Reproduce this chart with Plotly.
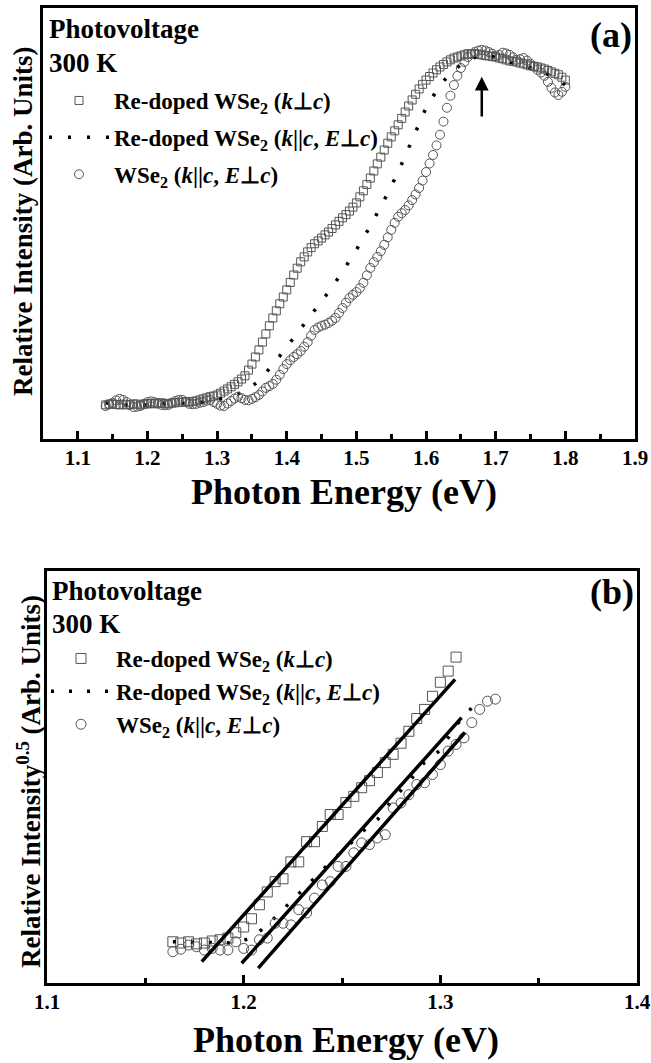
import plotly.graph_objects as go

W, H = 651, 1063
FONT = "Liberation Serif"
GRAY = "#555555"

# ---------------- panel (a) data ----------------
E_START_A = 1.14
E_STEP_A = 0.005
redoped_perp_a = [
    0.0, 0.2, 0.3, 0.1, 0.0, 0.2, 0.0, 0.1, 0.3, 0.2, 0.0, 0.2, 0.3, 0.4, 0.3, 0.5,
    0.6, 0.4, 0.3, 0.5, 0.6, 0.7, 0.8, 0.9, 0.8, 1.0, 1.1, 1.4, 1.7, 2.0, 2.3, 2.5,
    2.8, 3.3, 3.9, 4.5, 5.1, 5.8, 6.5, 7.3, 8.2, 9.8, 11.5, 13.5, 15.5, 17.7, 20.0, 22.3,
    24.5, 26.5, 28.5, 30.4, 32.4, 34.5, 36.6, 38.5, 40.3, 41.7, 43.1, 44.3, 45.4, 46.2, 47.0, 47.9,
    48.7, 49.7, 50.7, 51.7, 52.7, 53.6, 54.6, 55.7, 56.9, 58.6, 60.3, 62.1, 63.9, 65.9, 67.9, 69.8,
    71.8, 73.7, 75.5, 77.2, 78.9, 80.7, 82.5, 84.2, 85.9, 87.5, 89.0, 90.3, 91.5, 92.5, 93.5, 94.4,
    95.2, 95.9, 96.6, 97.2, 97.7, 98.0, 98.3, 98.6, 98.9, 98.9, 98.9, 98.8, 98.6, 98.4, 98.3, 98.1,
    98.0, 97.7, 97.5, 97.2, 96.9, 96.8, 96.6, 96.3, 96.1, 95.8, 95.5, 95.4, 95.2, 94.9, 94.6, 94.2,
    93.8, 93.4, 93.0, 92.3, 91.5,
]
wse2_a = [
    -0.3, 0.2, 0.6, 1.3, 1.7, 1.4, 0.8, 0.0, -0.6, -0.5, -0.3, 0.3, 0.8, 1.0, 0.8, 0.4,
    0.0, -0.1, 0.0, 0.6, 1.1, 1.4, 1.4, 0.9, 0.3, 0.2, 0.3, 0.6, 0.8, 1.2, 1.4, 0.8,
    0.3, -0.2, -0.3, 0.4, 1.1, 1.8, 2.3, 1.9, 1.4, 1.3, 1.7, 2.2, 2.8, 3.8, 4.8, 5.3,
    5.9, 7.1, 8.5, 10.1, 11.5, 12.6, 13.5, 14.3, 15.2, 16.4, 17.7, 19.5, 21.1, 21.8, 22.3, 22.6,
    23.1, 23.7, 24.5, 25.9, 27.3, 28.8, 30.1, 31.0, 31.8, 32.9, 34.4, 36.5, 38.6, 40.2, 41.7, 43.3,
    45.1, 47.2, 49.3, 51.3, 53.0, 54.0, 54.9, 56.2, 57.7, 59.3, 61.1, 63.2, 65.6, 68.0, 70.4, 73.1,
    76.1, 79.8, 83.7, 87.1, 90.1, 92.7, 94.9, 96.6, 98.0, 98.8, 99.4, 99.8, 100.0, 99.8, 99.4, 98.9,
    98.3, 98.6, 99.2, 99.0, 98.6, 97.9, 97.2, 97.4, 97.7, 97.0, 96.1, 95.3, 94.4, 93.6, 92.7, 91.0,
    89.3, 88.0, 87.3, 88.2, 89.6,
]
redoped_par_a_x = [1.14, 1.16, 1.18, 1.20, 1.22, 1.24, 1.26, 1.28, 1.30, 1.32, 1.34, 1.36,
                   1.38, 1.40, 1.42, 1.44, 1.46, 1.48, 1.50, 1.52, 1.54, 1.56, 1.58, 1.60,
                   1.62, 1.64, 1.66, 1.68, 1.70, 1.72, 1.74, 1.76, 1.78, 1.80]
redoped_par_a = [0.6, 0.0, 0.0, 0.0, 0.3, 0.3, 0.6, 0.8, 1.4, 2.5, 3.7, 6.8,
                 11.3, 16.3, 21.4, 26.5, 31.8, 37.5, 43.7, 50.4, 57.7, 65.6, 74.7, 83.7,
                 90.1, 94.4, 97.2, 98.6, 98.0, 96.6, 95.5, 94.4, 92.7, 90.1]
arrow_energy = 1.68
arrow_tip = 92.4
arrow_tail = 80.8
ticks_a = [1.1, 1.2, 1.3, 1.4, 1.5, 1.6, 1.7, 1.8, 1.9]

# ---------------- panel (b) data ----------------
E_START_B = 1.164
E_STEP_B = 0.004
redoped_perp_b = [
    10.0, 9.7, 10.0, 9.5, 9.7, 10.2, 10.5, 10.9, 12.2, 13.6, 15.6, 19.0, 22.1,
    24.6, 25.3, 29.4, 29.4, 34.3, 34.3, 38.0, 40.9, 40.9, 43.8, 45.3, 47.4, 49.1,
    51.1, 53.5, 55.5, 58.2, 61.1, 64.2, 66.4, 69.6, 73.0, 75.7, 79.1,
]
wse2_b = [
    7.6, 8.2, 9.2, 8.8, 8.0, 8.4, 8.0, 8.0, 10.0, 8.4, 8.0, 10.5, 10.9, 14.5,
    14.5, 14.1, 17.8, 17.0, 20.6, 23.8, 24.6, 28.3, 28.3, 31.6, 34.0, 33.6, 35.2,
    36.0, 42.5, 43.7, 45.7, 48.2, 48.6, 50.6, 53.0, 56.3, 57.9, 59.5, 63.2, 66.4,
    68.4, 68.9,
]
redoped_par_b_x = [1.164, 1.172, 1.180, 1.188, 1.196, 1.204, 1.212, 1.220, 1.228, 1.236,
                   1.244, 1.252, 1.260, 1.268, 1.276, 1.284, 1.292, 1.300, 1.308, 1.316]
redoped_par_b = [10.0, 10.0, 9.9, 9.8, 9.7, 11.0, 14.0, 17.8, 21.8, 25.5,
                 29.3, 32.7, 36.6, 39.6, 44.7, 48.8, 53.6, 56.5, 62.5, 66.8]
fit_perp_x = [1.1787, 1.3075]
fit_perp_y = [5.2, 73.7]
fit_par_x = [1.199, 1.3108]
fit_par_y = [4.8, 64.4]
fit_wse2_x = [1.2074, 1.3125]
fit_wse2_y = [3.6, 60.8]
ticks_b = [1.1, 1.2, 1.3, 1.4]

lab_perp = "Re-doped WSe<sub>2</sub> (<i>k</i>⊥<i>c</i>)"
lab_par = "Re-doped WSe<sub>2</sub> (<i>k</i>||<i>c</i>, <i>E</i>⊥<i>c</i>)"
lab_wse2 = "WSe<sub>2</sub> (<i>k</i>||<i>c</i>, <i>E</i>⊥<i>c</i>)"

x_a_sq = [round(E_START_A + E_STEP_A * i, 4) for i in range(len(redoped_perp_a))]
x_a_ci = [round(E_START_A + E_STEP_A * i, 4) for i in range(len(wse2_a))]
x_b_sq = [round(E_START_B + E_STEP_B * i, 4) for i in range(len(redoped_perp_b))]
x_b_ci = [round(E_START_B + E_STEP_B * i, 4) for i in range(len(wse2_b))]

fig = go.Figure()

# panel (a)
fig.add_trace(go.Scatter(x=x_a_sq, y=redoped_perp_a, mode="markers", name=lab_perp,
                         legendgroup="a1", legend="legend",
                         marker=dict(symbol="square-open", size=8, color=GRAY, line=dict(width=1, color=GRAY)),
                         xaxis="x", yaxis="y"))
fig.add_trace(go.Scatter(x=redoped_par_a_x, y=redoped_par_a, mode="lines", name=lab_par,
                         legendgroup="a2", legend="legend",
                         line=dict(color="black", width=3.5, dash="3px,16px"),
                         xaxis="x", yaxis="y"))
fig.add_trace(go.Scatter(x=x_a_ci, y=wse2_a, mode="markers", name=lab_wse2,
                         legendgroup="a3", legend="legend",
                         marker=dict(symbol="circle-open", size=9, color=GRAY, line=dict(width=1, color=GRAY)),
                         xaxis="x", yaxis="y"))

# panel (b)
fig.add_trace(go.Scatter(x=x_b_sq, y=redoped_perp_b, mode="markers", name=lab_perp,
                         legendgroup="b1", legend="legend2",
                         marker=dict(symbol="square-open", size=10, color=GRAY, line=dict(width=1, color=GRAY)),
                         xaxis="x2", yaxis="y2"))
fig.add_trace(go.Scatter(x=redoped_par_b_x, y=redoped_par_b, mode="lines", name=lab_par,
                         legendgroup="b2", legend="legend2",
                         line=dict(color="black", width=3.5, dash="3px,15px"),
                         xaxis="x2", yaxis="y2"))
fig.add_trace(go.Scatter(x=x_b_ci, y=wse2_b, mode="markers", name=lab_wse2,
                         legendgroup="b3", legend="legend2",
                         marker=dict(symbol="circle-open", size=10, color=GRAY, line=dict(width=1, color=GRAY)),
                         xaxis="x2", yaxis="y2"))
for fx, fy in [(fit_perp_x, fit_perp_y), (fit_par_x, fit_par_y), (fit_wse2_x, fit_wse2_y)]:
    fig.add_trace(go.Scatter(x=fx, y=fy, mode="lines", showlegend=False,
                             line=dict(color="black", width=3.5),
                             xaxis="x2", yaxis="y2"))


def px_x(p):
    return p / W


def px_y(p):
    return 1 - p / H


tickfont = dict(family=FONT, size=21, color="black", weight="bold")
common_x = dict(showline=True, linewidth=2.5, linecolor="black", mirror=True,
                ticks="inside", ticklen=8, tickwidth=2.5, tickcolor="black",
                showgrid=False, zeroline=False, tickfont=tickfont, tickformat=".1f",
                ticklabelstandoff=-2,
                minor=dict(ticks="inside", ticklen=5, tickwidth=2.5, tickcolor="black", dtick=0.05))
common_y = dict(showline=True, linewidth=2.5, linecolor="black", mirror=True,
                showticklabels=False, ticks="", showgrid=False, zeroline=False)

legfont = dict(family=FONT, size=23, color="black", weight="bold")
fig.update_layout(
    width=W, height=H,
    margin=dict(l=0, r=0, t=0, b=0, autoexpand=False),
    paper_bgcolor="white", plot_bgcolor="white",
    xaxis=dict(domain=[px_x(43), px_x(635)], range=[1.05, 1.9], anchor="y",
               tickvals=ticks_a, **common_x),
    yaxis=dict(domain=[px_y(439), px_y(8)], range=[-9.6, 111.8], anchor="x", **common_y),
    xaxis2=dict(domain=[px_x(47), px_x(637)], range=[1.1, 1.4], anchor="y2",
                tickvals=ticks_b, **common_x),
    yaxis2=dict(domain=[px_y(983), px_y(571)], range=[0, 100], anchor="x2", **common_y),
    legend=dict(x=px_x(44), y=px_y(79), xanchor="left", yanchor="top", itemwidth=60,
                bgcolor="rgba(0,0,0,0)", traceorder="grouped", tracegroupgap=4, font=legfont),
    legend2=dict(x=px_x(46), y=px_y(637), xanchor="left", yanchor="top", itemwidth=60,
                 bgcolor="rgba(0,0,0,0)", traceorder="grouped", tracegroupgap=0, font=legfont),
)

bold = dict(family=FONT, color="black", weight="bold")
annos = [
    dict(text="Photovoltage", x=px_x(47), y=px_y(29), size=27, xanchor="left"),
    dict(text="300 K", x=px_x(47), y=px_y(63), size=27, xanchor="left"),
    dict(text="(a)", x=px_x(634), y=px_y(35), size=36, xanchor="right"),
    dict(text="Photovoltage", x=px_x(50), y=px_y(591), size=27, xanchor="left"),
    dict(text="300 K", x=px_x(50), y=px_y(624), size=27, xanchor="left"),
    dict(text="(b)", x=px_x(636), y=px_y(592), size=36, xanchor="right"),
    dict(text="Photon Energy (eV)", x=px_x(344), y=px_y(492), size=36, xanchor="center"),
    dict(text="Photon Energy (eV)", x=px_x(346), y=px_y(1040), size=36, xanchor="center"),
]
for a in annos:
    fig.add_annotation(text=a["text"], x=a["x"], y=a["y"], xref="paper", yref="paper",
                       xanchor=a["xanchor"], yanchor="middle", showarrow=False,
                       font=dict(size=a["size"], **bold))

fig.add_annotation(text="Relative Intensity (Arb. Units)", x=px_x(23), y=px_y(222),
                   xref="paper", yref="paper", textangle=-90, showarrow=False,
                   xanchor="center", yanchor="middle", font=dict(size=27, **bold))
fig.add_annotation(text="Relative Intensity<sup>0.5</sup> (Arb. Units)", x=px_x(29), y=px_y(782),
                   xref="paper", yref="paper", textangle=-90, showarrow=False,
                   xanchor="center", yanchor="middle", font=dict(size=27, **bold))

fig.add_annotation(x=arrow_energy, y=arrow_tip, ax=arrow_energy, ay=arrow_tail,
                   xref="x", yref="y", axref="x", ayref="y", text="",
                   showarrow=True, arrowhead=2, arrowsize=1.1, arrowwidth=2.5, arrowcolor="black")

fig.write_html("out.html", config={"displayModeBar": False},
               post_script="document.body.style.margin='0px';document.body.style.overflow='hidden';")
